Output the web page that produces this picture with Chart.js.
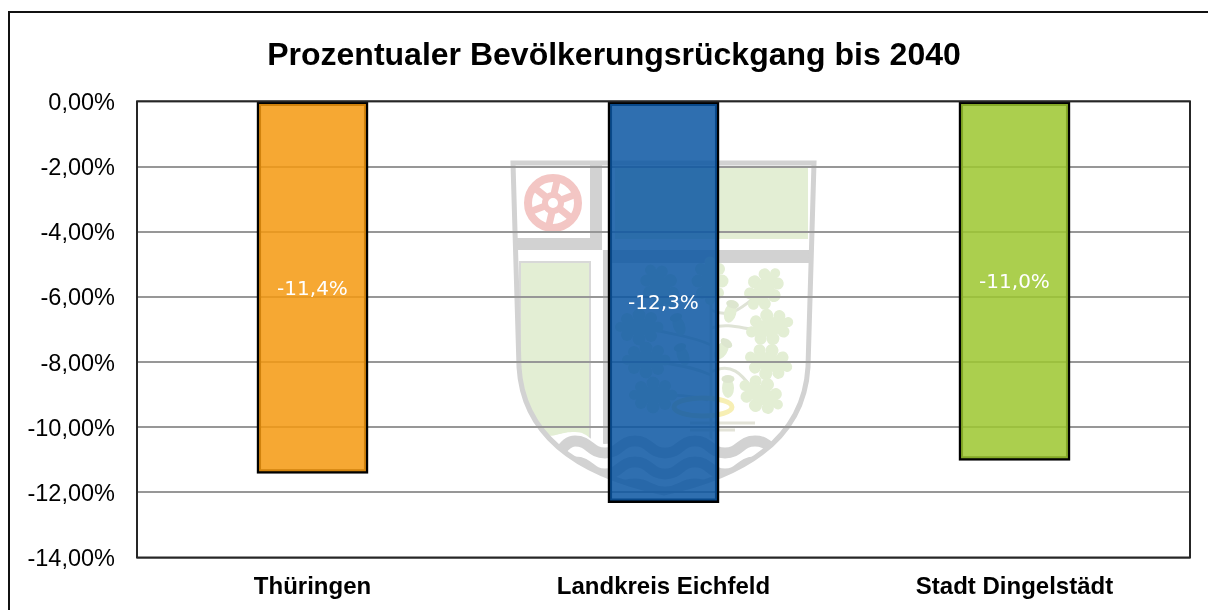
<!DOCTYPE html>
<html lang="de"><head><meta charset="utf-8">
<script src="https://cdn.jsdelivr.net/npm/chart.js@4/dist/chart.umd.min.js"></script>
<style>
html,body{margin:0;padding:0;background:#fff;width:1208px;height:610px;overflow:hidden}
#wm{position:absolute;left:0;top:0}
#frame{position:absolute;left:8px;top:11px;width:1300px;height:700px;border:2px solid #111;box-sizing:border-box}
#c{position:absolute;left:0;top:0}
</style></head><body>
<svg id="wm" width="1208" height="610" viewBox="0 0 1208 610">
<defs>
<clipPath id="sh"><path id="shp" d="M513 163H814L808 367C805 419 772 470 664 493C555 470 522 419 519 367Z"/></clipPath>
<g id="leaf">
<circle cx="-15" cy="0" r="5.5"/><circle cx="-8" cy="-9" r="6"/><circle cx="-8" cy="9" r="6"/>
<circle cx="4" cy="-12" r="6.5"/><circle cx="4" cy="12" r="6.5"/><circle cx="16" cy="-8" r="6"/><circle cx="16" cy="8" r="6"/><circle cx="23" cy="0" r="5"/>
<ellipse cx="4" cy="0" rx="19" ry="9"/>
</g>
<g id="acorn"><ellipse cx="0" cy="3" rx="6" ry="10"/><ellipse cx="0" cy="-6" rx="6.5" ry="4" fill="#dde6cf"/></g>
</defs>
<g clip-path="url(#sh)">
<rect x="505" y="155" width="320" height="345" fill="#fff"/>
<rect x="615" y="167" width="193" height="72" fill="#e3eed4"/>
<path d="M520 262H590V450H520Z" fill="#e3eed4" stroke="#d8d8d8" stroke-width="2"/>
<rect x="590" y="163" width="12" height="87" fill="#d2d2d2"/>
<rect x="513" y="238" width="89" height="12" fill="#d2d2d2"/>
<rect x="603" y="250" width="211" height="13" fill="#d2d2d2"/>
<rect x="603" y="250" width="6" height="205" fill="#d2d2d2"/>
<g fill="none" stroke="#dfe3d6" stroke-width="3">
<path d="M711 440V270"/><path d="M711 310C730 320 745 305 755 297"/><path d="M711 328C730 322 745 330 760 330"/><path d="M711 372C735 360 745 380 755 392"/><path d="M711 345C690 335 670 335 645 327"/><path d="M711 375C690 365 670 365 650 360"/><path d="M708 400C690 395 675 395 657 395"/>
</g>
<g fill="#e3eed4">
<use href="#leaf" transform="translate(762 292) rotate(-55)"/>
<use href="#leaf" transform="translate(766 328) rotate(-15)"/>
<use href="#leaf" transform="translate(765 361) rotate(15)"/>
<use href="#leaf" transform="translate(758 393) rotate(30)"/>
<use href="#leaf" transform="translate(658 283) rotate(60)"/>
<use href="#leaf" transform="translate(710 277) rotate(90)"/>
<use href="#leaf" transform="translate(643 327) rotate(180)"/>
<use href="#leaf" transform="translate(650 360) rotate(180)"/>
<use href="#leaf" transform="translate(657 395) rotate(180)"/>
<use href="#acorn" transform="translate(731 310) rotate(15)"/>
<use href="#acorn" transform="translate(723 348) rotate(35)"/>
<use href="#acorn" transform="translate(728 385)"/>
<use href="#acorn" transform="translate(678 323) rotate(-20)"/>
<use href="#acorn" transform="translate(682 353) rotate(-20)"/>
</g>
<ellipse cx="703" cy="407" rx="29" ry="9" fill="none" stroke="#f7efb4" stroke-width="5"/>
<path d="M690 423H755M690 430H735" stroke="#e3e3d8" stroke-width="3" fill="none"/>
<path d="M515 446C530 446 530 436 545 436S560 432 575 432S590 444 605 444S620 432 635 432S650 444 665 444S680 432 695 432S710 444 725 444S740 432 755 432S770 444 785 444S800 436 815 436V510H515Z" fill="#fff"/>
<g fill="none" stroke="#d2d2d2">
<path stroke-width="11" d="M515 453C530 453 530 441 545 453S560 441 575 441S590 453 605 453S620 441 635 441S650 453 665 453S680 441 695 441S710 453 725 453S740 441 755 441S770 453 785 453S800 441 815 441"/>
<path stroke-width="11" d="M515 474C530 474 530 462 545 474S560 462 575 462S590 474 605 474S620 462 635 462S650 474 665 474S680 462 695 462S710 474 725 474S740 462 755 462S770 474 785 474S800 462 815 462"/>
<path stroke-width="7" d="M605 491S620 482 635 482S650 490 665 490S680 482 695 482S710 491 725 491"/>
</g>
</g>
<use href="#shp" fill="none" stroke="#d2d2d2" stroke-width="5"/>
<g transform="translate(553 203)" fill="none" stroke="#f3c6c4">
<circle r="25" stroke-width="8"/>
<circle r="8" stroke-width="6"/>
<g stroke-width="7">
<path d="M4 -22L1 -9"/><path d="M21 -8L8 -3"/><path d="M17 14L7 6"/><path d="M-4 22L-1 9"/><path d="M-21 8L-8 3"/><path d="M-17 -14L-7 -6"/>
</g>
</g>
</svg>
<div id="frame"></div>
<canvas id="c" width="1208" height="610"></canvas>
<script>
const chartTitle = "Prozentualer Bevölkerungsrückgang bis 2040";
const categories = ["Thüringen", "Landkreis Eichfeld", "Stadt Dingelstädt"];
const values = [-11.4, -12.3, -11.0];
const barColors = ["rgba(245,153,15,0.85)", "rgba(10,86,162,0.85)", "rgba(156,199,47,0.85)"];
const yMin = -14, yMax = 0, yStep = 2;

const de = (v, d) => v.toFixed(d).replace(".", ",") + "%";

const valueLabels = {
  id: "valueLabels",
  afterDatasetsDraw(chart) {
    const { ctx } = chart;
    const els = chart.getDatasetMeta(0).data;
    ctx.save();
    ctx.fillStyle = "#fff";
    ctx.font = '20px "DejaVu Sans"';
    ctx.textAlign = "center";
    ctx.textBaseline = "middle";
    els.forEach((el, i) => {
      const p = el.getProps(["x", "y", "base"], true);
      ctx.fillText(de(values[i], 1), p.x, (p.y + p.base) / 2 + 2);
    });
    ctx.restore();
  }
};
const plotBorder = {
  id: "plotBorder",
  afterDraw(chart) {
    const a = chart.chartArea, ctx = chart.ctx;
    ctx.save();
    ctx.strokeStyle = "#262626";
    ctx.lineWidth = 2;
    ctx.strokeRect(a.left, a.top, a.right - a.left, a.bottom - a.top);
    ctx.restore();
  }
};
const titleOffset = {
  id: "titleOffset",
  afterLayout(chart) {
    chart.titleBlock.left += 19;
    chart.titleBlock.right += 19;
  }
};

new Chart(document.getElementById("c"), {
  type: "bar",
  data: {
    labels: categories,
    datasets: [{
      data: values,
      backgroundColor: barColors,
      borderColor: "#000",
      borderWidth: 2.5,
      borderSkipped: false,
      inflateAmount: 1,
      barPercentage: 1,
      categoryPercentage: 0.313,
      clip: false
    }]
  },
  plugins: [titleOffset, valueLabels, plotBorder],
  options: {
    responsive: false,
    animation: false,
    devicePixelRatio: 1,
    layout: { padding: { left: 0, right: 18, top: 0, bottom: 0 } },
    plugins: {
      legend: { display: false },
      tooltip: { enabled: false },
      title: {
        display: true,
        text: chartTitle,
        color: "#000",
        font: { family: '"Liberation Sans"', size: 32, weight: "bold" },
        padding: { top: 37, bottom: 26 }
      }
    },
    scales: {
      x: {
        grid: { display: false, drawTicks: false },
        border: { display: false },
        ticks: {
          color: "#000", padding: 15, maxRotation: 0, autoSkip: false,
          font: { family: '"Liberation Sans"', size: 24, weight: "bold" }
        },
        afterFit(s) { s.height = 52.5; }
      },
      y: {
        min: yMin, max: yMax,
        grid: { color: "#979797", lineWidth: 2, drawTicks: false },
        border: { display: false },
        ticks: {
          stepSize: yStep, color: "#000", padding: 22, labelOffset: 2,
          font: { family: '"Liberation Sans"', size: 23.5 },
          callback: v => de(v, 2)
        },
        afterFit(s) { s.width = 137; }
      }
    }
  }
});
</script>
</body></html>
